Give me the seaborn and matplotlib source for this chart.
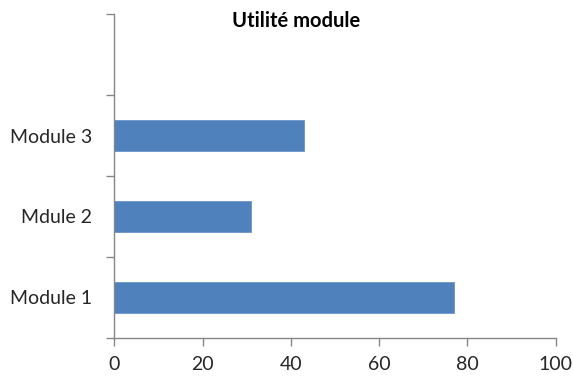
import matplotlib
matplotlib.use("Agg")
import matplotlib.pyplot as plt
import matplotlib.ticker as mticker
import seaborn as sns
import pandas as pd

# Usefulness score per module
modules = ["Module 1", "Mdule 2", "Module 3"]
scores = [77, 31, 43]
x_ticks = [0, 20, 40, 60, 80, 100]
title = "Utilité module"

sns.set_style("white")
plt.rcParams["font.family"] = ["Lato", "DejaVu Sans"]

df = pd.DataFrame({"module": modules, "score": scores})
order = [" ", "Module 3", "Mdule 2", "Module 1"]

fig = plt.figure(figsize=(5.73, 3.79), dpi=100)
ax = fig.add_axes([0.1997, 0.109, 0.7698, 0.853])

sns.barplot(data=df, x="score", y="module", order=order, color="#4F81BD",
            saturation=1, width=0.39, edgecolor="#6C95C8", linewidth=0.6, ax=ax)

ax.set_xlim(0, 100)
ax.set_ylim(3.5, -0.5)
ax.set_xlabel("")
ax.set_ylabel("")

ax.set_xticks(x_ticks)
ax.set_xticklabels([str(v) for v in x_ticks])
ax.tick_params(axis="x", length=6, width=1, color="#868686", direction="out",
               pad=7, labelsize=14, labelcolor="#262626", bottom=True)

# Category separators as major ticks, labels on the minor (centre) ticks
ax.yaxis.set_major_locator(mticker.FixedLocator([-0.5, 0.5, 1.5, 2.5, 3.5]))
ax.yaxis.set_major_formatter(mticker.NullFormatter())
ax.yaxis.set_minor_locator(mticker.FixedLocator([1, 2, 3]))
ax.yaxis.set_minor_formatter(mticker.FixedFormatter(["Module 3", "Mdule 2", "Module 1"]))
ax.tick_params(axis="y", which="major", length=6, width=1, color="#868686",
               direction="out", left=True)
ax.tick_params(axis="y", which="minor", length=0, pad=16, labelsize=14,
               labelcolor="#262626", left=True)

for side in ("top", "right"):
    ax.spines[side].set_visible(False)
for side in ("left", "bottom"):
    ax.spines[side].set_color("#868686")
    ax.spines[side].set_linewidth(1)

fig.text(296 / 573, 1 - 21 / 379, title, ha="center", va="center",
         fontsize=14.5, fontweight="bold", color="#000000")

fig.savefig("out.png", dpi=100)
